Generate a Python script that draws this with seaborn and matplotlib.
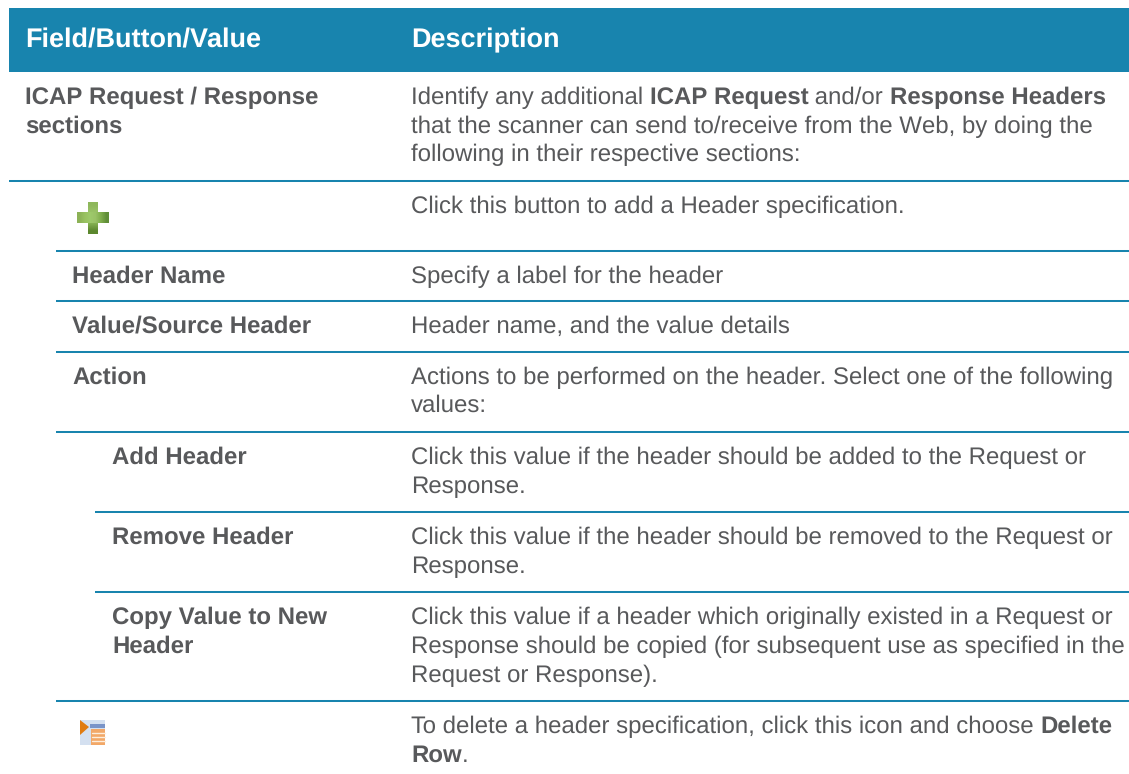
import matplotlib
matplotlib.use("Agg")
import numpy as np
import seaborn as sns
import matplotlib.pyplot as plt
from matplotlib.patches import Rectangle

sns.set_theme(style="white")
plt.rcParams['font.family'] = ['Liberation Sans', 'DejaVu Sans']
plt.rcParams['text.hinting'] = 'no_hinting'
plt.rcParams['text.hinting_factor'] = 1

TEAL = '#1884ae'
GREY = '#58595b'

headers = ["Field/Button/Value", "Description"]
left_labels = [
    ("ICAP Request / Response", 25, 104), ("sections", 25, 133),
    ("Header Name", 72, 283), ("Value/Source Header", 72, 333), ("Action", 72, 384),
    ("Add Header", 112, 464), ("Remove Header", 112, 544),
    ("Copy Value to New", 112, 624), ("Header", 112, 653),
]
# each line: list of (text, bold) runs
right_lines = [
    ([("Identify any additional ", 0), ("ICAP Request", 1), (" and/or ", 0), ("Response Headers", 1)], 104),
    ([("that the scanner can send to/receive from the Web, by doing the", 0)], 133),
    ([("following in their respective sections:", 0)], 161),
    ([("Click this button to add a Header specification.", 0)], 213),
    ([("Specify a label for the header", 0)], 283),
    ([("Header name, and the value details", 0)], 333),
    ([("Actions to be performed on the header. Select one of the following", 0)], 384),
    ([("values:", 0)], 412),
    ([("Click this value if the header should be added to the Request or", 0)], 464),
    ([("Response.", 0)], 493),
    ([("Click this value if the header should be removed to the Request or", 0)], 544),
    ([("Response.", 0)], 573),
    ([("Click this value if a header which originally existed in a Request or", 0)], 624),
    ([("Response should be copied (for subsequent use as specified in the", 0)], 653),
    ([("Request or Response).", 0)], 682),
    ([("To delete a header specification, click this icon and choose ", 0), ("Delete", 1)], 733),
    ([("Row", 1), (".", 0)], 762),
]
rules = [(181, 9), (251, 56), (301, 56), (352, 56), (432, 56), (512, 95), (592, 95), (701, 56)]

W, H = 1129, 774
fig = plt.figure(figsize=(W / 100, H / 100), dpi=100, facecolor='white')
ax = fig.add_axes([0, 0, 1, 1])
ax.set_xlim(0, W)
ax.set_ylim(H, 0)
ax.axis('off')
sns.despine(ax=ax, left=True, bottom=True)

ax.add_patch(Rectangle((9, 8), W - 9, 64, facecolor=TEAL, edgecolor='none'))
for t, x in zip(headers, [25, 411]):
    ax.text(x, 47, t, color='white', fontsize=19.3, fontweight='bold', va='baseline')

for y, x0 in rules:
    ax.plot([x0, W], [y, y], color=TEAL, lw=1.45, solid_capstyle='butt')

for t, x, y in left_labels:
    ax.text(x, y, t, color=GREY, fontsize=17.25, fontweight='bold', va='baseline')

renderer = fig.canvas.get_renderer()
for runs, y in right_lines:
    x = 411
    for t, b in runs:
        txt = ax.text(x, y, t, color=GREY, fontsize=17.25, fontweight='bold' if b else 'normal', va='baseline')
        w, _, _ = renderer.get_text_width_height_descent(t.replace(' ', '\u00a0'), txt.get_fontproperties(), False)
        x += w

# plus icon: two arms with a light centre and darker ends
vert = np.array([[[0.56, 0.72, 0.36]], [[0.60, 0.76, 0.40]], [[0.62, 0.79, 0.42]],
                 [[0.50, 0.67, 0.30]], [[0.36, 0.53, 0.18]]])
horiz = np.array([[[0.55, 0.70, 0.34], [0.60, 0.76, 0.38], [0.62, 0.79, 0.42],
                   [0.60, 0.76, 0.40], [0.50, 0.68, 0.30], [0.38, 0.56, 0.22]]])
ax.imshow(vert, extent=(88, 98, 234, 202), aspect='auto', interpolation='bilinear', zorder=3)
ax.imshow(horiz, extent=(77, 109, 223, 212), aspect='auto', interpolation='bilinear', zorder=3)
# delete-row icon
ax.add_patch(Rectangle((80, 720), 25, 25, facecolor='#d4e0f0', edgecolor='none', zorder=3))
ax.add_patch(Rectangle((90, 724), 15, 4, facecolor='#7a94c8', edgecolor='none', zorder=3))
ax.add_patch(Rectangle((91, 729), 14, 16, facecolor='#f2a868', edgecolor='none', zorder=3))
for yy in [733, 737, 741]:
    ax.plot([92, 105], [yy, yy], color='#fdeedd', lw=1, zorder=4)
ax.add_patch(plt.Polygon([[80, 720], [89, 727], [80, 735]], facecolor='#e07b10', edgecolor='none', zorder=4))
ax.set_xlim(0, W)
ax.set_ylim(H, 0)
fig.savefig('out.png', dpi=100)
